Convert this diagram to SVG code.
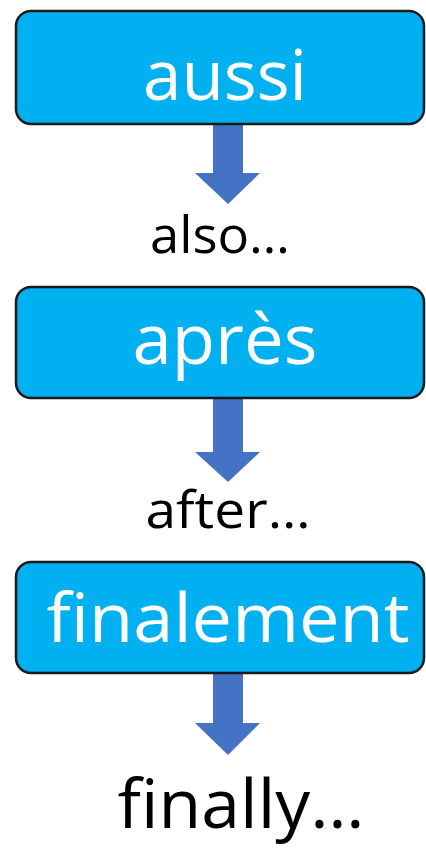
<svg xmlns="http://www.w3.org/2000/svg" width="426" height="853" viewBox="0 0 426 853">
<style>
.box{fill:#00B0F0;stroke:#1a1a1a;stroke-width:2.5}
.w{fill:#ffffff;font-family:"Open Sans","Liberation Sans",sans-serif;text-anchor:middle}
.b{fill:#000000;font-family:"Open Sans","Liberation Sans",sans-serif;text-anchor:middle}
.arr{fill:#4472C4}
</style>
<rect width="426" height="853" fill="#ffffff"/>
<g id="connectors">
<polygon class="arr" points="213,124 243,124 243,173 260,173 228,204 195,173 213,173"/>
<polygon class="arr" points="213,398 243,398 243,452 260,452 228,482 195,452 213,452"/>
<polygon class="arr" points="213,673 243,673 243,723 260,723 228,755 195,723 213,723"/>
</g>
<g id="node-aussi">
<rect class="box" x="16" y="11" width="408" height="113" rx="15"/>
<text class="w" x="225" y="100" font-size="70" textLength="164" lengthAdjust="spacingAndGlyphs">aussi</text>
</g>
<g id="label-also">
<text class="b" x="220" y="253" font-size="52" textLength="140" lengthAdjust="spacingAndGlyphs">also…</text>
</g>
<g id="node-apres">
<rect class="box" x="16" y="287" width="408" height="111" rx="15"/>
<text class="w" x="225" y="364" font-size="70" textLength="185" lengthAdjust="spacingAndGlyphs">après</text>
</g>
<g id="label-after">
<text class="b" x="228" y="528" font-size="52" textLength="165" lengthAdjust="spacingAndGlyphs">after…</text>
</g>
<g id="node-finalement">
<rect class="box" x="16" y="562" width="408" height="111" rx="15"/>
<text class="w" x="228" y="642" font-size="68" textLength="363" lengthAdjust="spacingAndGlyphs">finalement</text>
</g>
<g id="label-finally">
<text class="b" x="241" y="828" font-size="68" textLength="247" lengthAdjust="spacingAndGlyphs">finally…</text>
</g>
</svg>
